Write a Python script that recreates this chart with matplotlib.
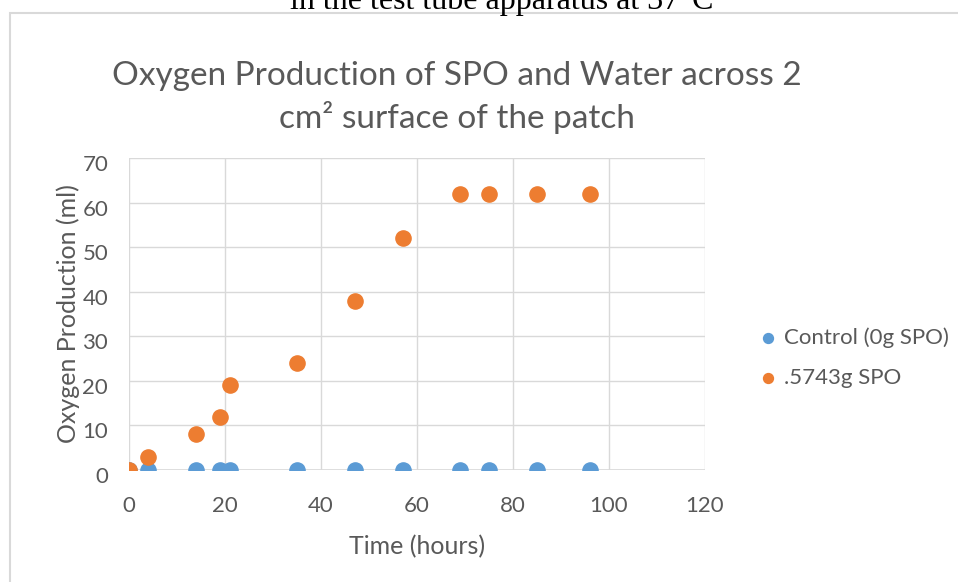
import matplotlib.pyplot as plt
import matplotlib.transforms as mtransforms
from matplotlib.patches import Rectangle

# data
hours = [0, 4, 14, 19, 21, 35, 47, 57, 69, 75, 85, 96]
control = [0, 0, 0, 0, 0, 0, 0, 0, 0, 0, 0, 0]
spo = [0, 3, 8, 12, 19, 24, 38, 52, 62, 62, 62, 62]

series_names = ["Control (0g SPO)", ".5743g SPO"]
x_ticks = [0, 20, 40, 60, 80, 100, 120]
y_ticks = [0, 10, 20, 30, 40, 50, 60, 70]

BLUE = "#5B9BD5"
ORANGE = "#ED7D31"
GRID = "#D9D9D9"
TXT = "#595959"

plt.rcParams['font.family'] = ['Lato', 'DejaVu Sans']

W, H = 958, 582
fig = plt.figure(figsize=(W / 100, H / 100), dpi=100)

# caption from the surrounding document, cut off at the top like the screenshot
fig.text(502 / W, 1 - 9 / H, "in the test tube apparatus at 37°C",
         ha='center', va='baseline', fontsize=23, family='Liberation Serif',
         color='black')

# chart border
fig.patches.append(Rectangle((10 / W, -0.1), 1.1, 1 - 13 / H + 0.1,
                             transform=fig.transFigure, fill=False,
                             edgecolor=GRID, linewidth=1.5))

ax = fig.add_axes([129 / W, 1 - 470 / H, (705 - 129) / W, (470 - 158) / H])

ax.scatter(hours, control, s=120, color=BLUE, label=series_names[0], zorder=3)
ax.scatter(hours, spo, s=120, color=ORANGE, label=series_names[1], zorder=3)

ax.set_xlim(0, 120)
ax.set_ylim(0, 70)
ax.set_xticks(x_ticks)
ax.set_yticks(y_ticks)
ax.grid(True, color=GRID, linewidth=1)
ax.set_axisbelow(True)
for s in ax.spines.values():
    s.set_visible(False)
ax.axhline(0, color=GRID, linewidth=1.2, zorder=1)
ax.axvline(0, color=GRID, linewidth=1.2, zorder=1)
ax.tick_params(axis='x', length=0, labelsize=16, labelcolor=TXT, pad=19)
ax.tick_params(axis='y', length=0, labelsize=16, labelcolor=TXT, pad=15)
# excel draws the y labels a little below their grid lines
shift = mtransforms.ScaledTranslation(0, -3.6 / 72, fig.dpi_scale_trans)
for lab in ax.get_yticklabels():
    lab.set_transform(lab.get_transform() + shift)
for lab in ax.get_xticklabels() + ax.get_yticklabels():
    lab.set_clip_on(False)

ax.set_xlabel("Time (hours)", fontsize=18, color=TXT, va='center')
ax.xaxis.set_label_coords(0.5, (470 - 547) / 312)
ax.set_ylabel("Oxygen Production (ml)", fontsize=18, color=TXT, va='center')
ax.yaxis.set_label_coords((68 - 129) / 576, 0.5)

fig.text(457 / W, 1 - 76 / H, "Oxygen Production of SPO and Water across 2",
         ha='center', va='center', fontsize=24, color=TXT)
fig.text(457 / W, 1 - 118 / H, "cm² surface of the patch",
         ha='center', va='center', fontsize=24, color=TXT)

fig.legend(loc='upper left', bbox_to_anchor=(757 / W, 1 - 327 / H),
           frameon=False, fontsize=16, labelcolor=TXT, handlelength=1.0,
           handletextpad=0.2, labelspacing=0.9, markerscale=0.65,
           borderaxespad=0, borderpad=0)

fig.savefig("out.png", dpi=100)
